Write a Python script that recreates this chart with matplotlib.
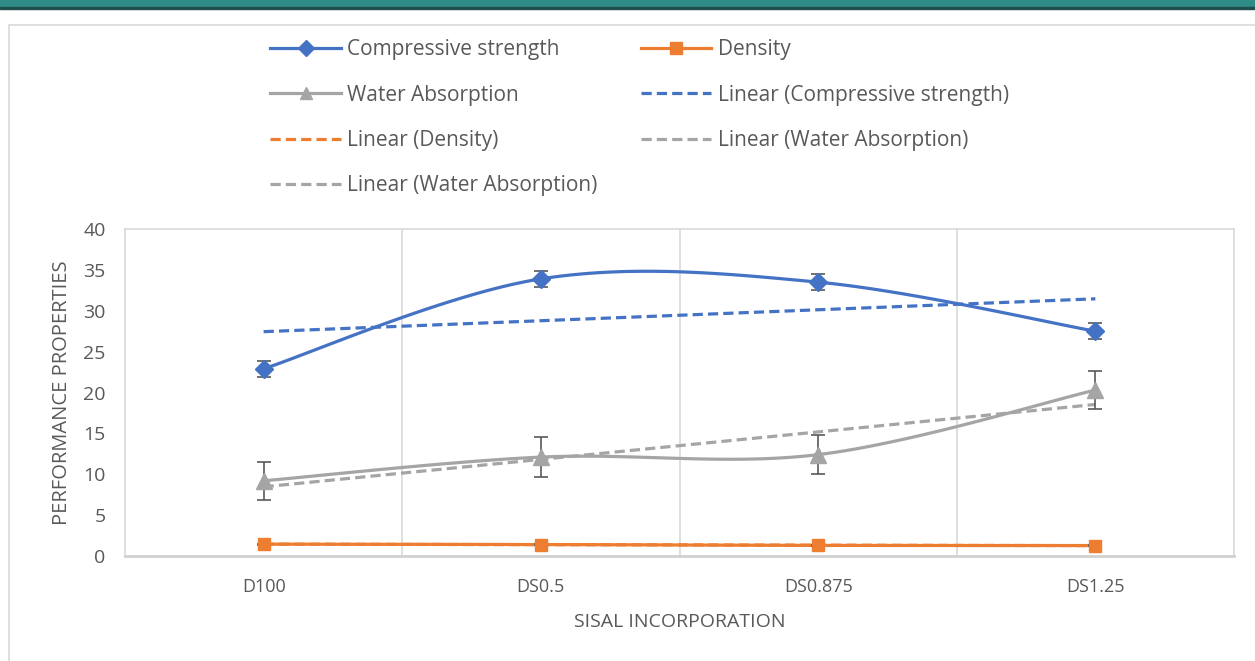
import numpy as np
import matplotlib
matplotlib.use('Agg')
import matplotlib.pyplot as plt
from matplotlib.patches import Rectangle
from matplotlib.lines import Line2D

# data
categories = ['D100', 'DS0.5', 'DS0.875', 'DS1.25']
compressive = [22.9, 33.9, 33.5, 27.5]
compressive_err = [1.0, 1.0, 1.0, 1.0]
density = [1.45, 1.4, 1.3, 1.28]
density_err = [0.05, 0.05, 0.05, 0.05]
water_abs = [9.2, 12.1, 12.4, 20.3]
water_abs_err = [2.3, 2.4, 2.4, 2.3]

BLUE = '#4472C4'
ORANGE = '#ED7D31'
GRAY = '#A5A5A5'
ERR = '#595959'
TXT = '#595959'

plt.rcParams['font.family'] = ['Open Sans', 'DejaVu Sans']


def smooth(x, y, n=40):
    # excel style smoothed line (catmull-rom through the points)
    x = np.asarray(x, float)
    y = np.asarray(y, float)
    px = np.concatenate([[x[0]], x, [x[-1]]])
    py = np.concatenate([[y[0]], y, [y[-1]]])
    xs, ys = [], []
    t = np.linspace(0, 1, n)
    for i in range(1, len(px) - 2):
        mx1 = (px[i + 1] - px[i - 1]) / 2
        mx2 = (px[i + 2] - px[i]) / 2
        my1 = (py[i + 1] - py[i - 1]) / 2
        my2 = (py[i + 2] - py[i]) / 2
        h00 = 2 * t**3 - 3 * t**2 + 1
        h10 = t**3 - 2 * t**2 + t
        h01 = -2 * t**3 + 3 * t**2
        h11 = t**3 - t**2
        xs.append(h00 * px[i] + h10 * mx1 + h01 * px[i + 1] + h11 * mx2)
        ys.append(h00 * py[i] + h10 * my1 + h01 * py[i + 1] + h11 * my2)
    return np.concatenate(xs), np.concatenate(ys)


def trend(x, y):
    k, b = np.polyfit(x, y, 1)
    return np.asarray(x) * k + b


fig = plt.figure(figsize=(12.55, 6.61), dpi=100)
# frame around the chart and the bar on top
fig.patches.append(Rectangle((0, 1 - 8 / 661), 1, 8 / 661, transform=fig.transFigure,
                             color='#2E8B86', zorder=0))
fig.patches.append(Rectangle((0, 1 - 9 / 661), 1, 2 / 661, transform=fig.transFigure,
                             color='#1F4F4C', zorder=0))
fig.patches.append(Rectangle((9 / 1255, -0.01), 1.1, 1 - 18 / 661, transform=fig.transFigure,
                             fill=False, edgecolor='#D9D9D9', lw=1.2, zorder=0))

ax = fig.add_axes([125 / 1255, 105 / 661, 1109 / 1255, 327 / 661])
x = np.arange(len(categories)) + 0.5

lw = 2.3
dash = (0, (3.2, 1.6))

# compressive strength
sx, sy = smooth(x, compressive)
ax.plot(sx, sy, color=BLUE, lw=lw, zorder=3)
ax.errorbar(x, compressive, yerr=compressive_err, fmt='none', ecolor=ERR, elinewidth=1.2,
            capsize=5, capthick=1.2, zorder=4)
ax.plot(x, compressive, 'D', color=BLUE, ms=9.5, zorder=5)
ax.plot(x, trend(x, compressive), color=BLUE, lw=lw, ls=dash, zorder=3)

# density
sx, sy = smooth(x, density)
ax.plot(sx, sy, color=ORANGE, lw=lw, zorder=3)
ax.errorbar(x, density, yerr=density_err, fmt='none', ecolor=ERR, elinewidth=1.2,
            capsize=5, capthick=1.2, zorder=4)
ax.plot(x, density, 's', color=ORANGE, ms=8.5, zorder=5)
ax.plot(x, trend(x, density), color=ORANGE, lw=lw, ls=dash, zorder=3)

# water absorption
sx, sy = smooth(x, water_abs)
ax.plot(sx, sy, color=GRAY, lw=lw, zorder=3)
ax.errorbar(x, water_abs, yerr=water_abs_err, fmt='none', ecolor=ERR, elinewidth=1.2,
            capsize=5, capthick=1.2, zorder=4)
ax.plot(x, water_abs, '^', color=GRAY, ms=11, zorder=5)
ax.plot(x, trend(x, water_abs), color=GRAY, lw=lw, ls=dash, zorder=3)

ax.set_xlim(0, len(categories))
ax.set_ylim(0, 40)
ax.set_yticks(range(0, 41, 5))
ax.set_xticks(x)
ax.set_xticklabels(categories, fontsize=13)
ax.tick_params(axis='y', labelsize=14, colors=TXT, length=0, pad=14)
ax.tick_params(axis='x', colors=TXT, length=0, pad=16)
for b in range(1, len(categories)):
    ax.axvline(b, color='#D9D9D9', lw=1.2, zorder=1)
for s in ax.spines.values():
    s.set_color('#D9D9D9')
    s.set_linewidth(1.2)
ax.spines['bottom'].set_color('#D0D0D0')
ax.spines['bottom'].set_linewidth(2)

ax.set_ylabel('PERFORMANCE PROPERTIES', fontsize=14.5, color=TXT, labelpad=8)
ax.set_xlabel('SISAL INCORPORATION', fontsize=14, color=TXT, labelpad=12)

# legend
def h(c, m=None, ls='-', ms=8):
    return Line2D([], [], color=c, lw=lw, ls=ls, marker=m, ms=ms)

handles = [h(BLUE, 'D', ms=8), h(GRAY, '^', ms=9), h(ORANGE, ls=dash), h(GRAY, ls=dash),
           h(ORANGE, 's', ms=8), h(BLUE, ls=dash), h(GRAY, ls=dash)]
labels = ['Compressive strength', 'Water Absorption', 'Linear (Density)', 'Linear (Water Absorption)',
          'Density', 'Linear (Compressive strength)', 'Linear (Water Absorption)']
leg = fig.legend(handles, labels, ncol=2, loc='upper left', bbox_to_anchor=(262 / 1255, 1 - 31 / 661),
                 frameon=False, fontsize=15, handlelength=3.4, handletextpad=0.3,
                 columnspacing=2.05, labelspacing=1.17, borderaxespad=0)
for t in leg.get_texts():
    t.set_color(TXT)

fig.savefig('out.png', dpi=100)
